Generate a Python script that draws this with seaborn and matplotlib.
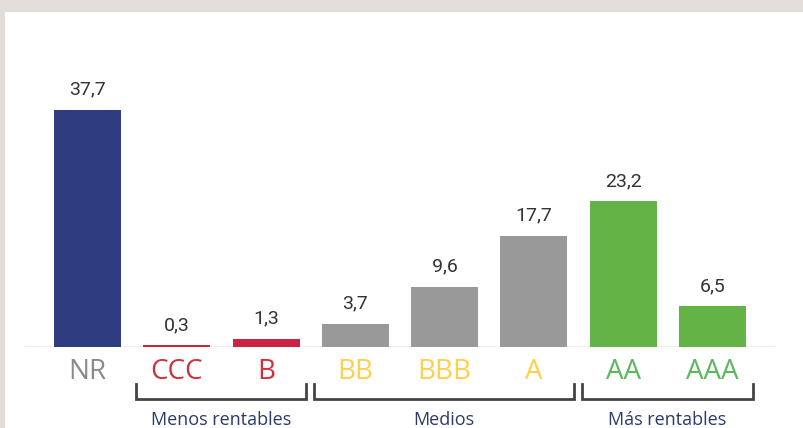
import matplotlib
matplotlib.use("Agg")
import matplotlib.pyplot as plt
import seaborn as sns
import pandas as pd
from matplotlib.patches import Rectangle
from matplotlib.transforms import blended_transform_factory

categories = ["NR", "CCC", "B", "BB", "BBB", "A", "AA", "AAA"]
values = [37.7, 0.3, 1.3, 3.7, 9.6, 17.7, 23.2, 6.5]
value_labels = ["37,7", "0,3", "1,3", "3,7", "9,6", "17,7", "23,2", "6,5"]
bar_colors = ["#2f3d80", "#cc2344", "#cc2344", "#999999", "#999999", "#999999", "#63b346", "#63b346"]
tick_colors = ["#8a8a8a", "#d22f3a", "#d22f3a", "#ffcf4f", "#ffcf4f", "#ffcf4f", "#5cb85c", "#5cb85c"]
groups = ["Menos rentables", "Medios", "Más rentables"]
group_spans = [(1, 2), (3, 5), (6, 7)]

df = pd.DataFrame({"cat": categories, "val": values})

W, H = 804, 428
fig = plt.figure(figsize=(W / 100, H / 100), dpi=100)
fig.patch.set_facecolor("#e2ddd8")
fig.patches.append(Rectangle((5 / W, 0), 1, (H - 12) / H, transform=fig.transFigure,
                             facecolor="white", edgecolor="none", zorder=-10))

base_px = 347
scale = 6.29
ylim_top = 40
ax = fig.add_axes([25 / W, (H - base_px) / H, 750 / W, ylim_top * scale / H])
ax.set_facecolor("none")
ax.set_zorder(5)

sns.barplot(data=df, x="cat", y="val", hue="cat", palette=bar_colors, legend=False,
            width=0.75, ax=ax, saturation=1, zorder=3)
ax.set_xlim(-0.7, 7.7)
ax.set_ylim(0, ylim_top)
ax.axhline(0, color="#eeeeee", lw=2, zorder=2)

for s in ax.spines.values():
    s.set_visible(False)
ax.set_yticks([])
ax.set_xlabel("")
ax.set_ylabel("")
ax.tick_params(axis="x", length=0, pad=8)
ax.set_xticks(range(len(categories)))
ax.set_xticklabels(categories, fontsize=20, fontfamily="Open Sans")
for t, c in zip(ax.get_xticklabels(), tick_colors):
    t.set_color(c)

for i, (v, lab) in enumerate(zip(values, value_labels)):
    ax.annotate(lab, (i, v), xytext=(0, 8), textcoords="offset points",
                ha="center", va="bottom", fontsize=14, fontfamily="Roboto", color="#333333")

# brackets
tr = blended_transform_factory(ax.transData, fig.transFigure)
y_top = (H - 384) / H
y_bot = (H - 399) / H
for (a, b), name in zip(group_spans, groups):
    x0, x1 = a - 0.46, b + 0.45
    ax.plot([x0, x0, x1, x1], [y_top, y_bot, y_bot, y_top], transform=tr,
            color="#444444", lw=2, clip_on=False, solid_joinstyle="miter")
    ax.text((x0 + x1) / 2, (H - 420) / H, name, transform=tr, ha="center", va="center",
            fontsize=13, fontfamily="Open Sans", color="#2a3a6c")

fig.savefig("out.png", dpi=100)
